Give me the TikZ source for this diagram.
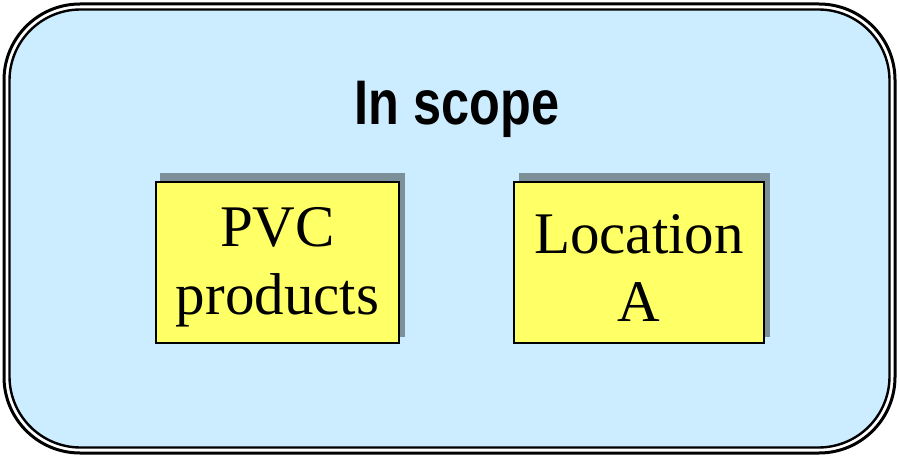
\documentclass[tikz,border=0pt]{standalone}
\usepackage{fontspec}
\setmainfont{Liberation Serif}
\newfontfamily\titlefont[FakeStretch=0.8]{Liberation Sans}
\definecolor{panelblue}{RGB}{204,236,255}
\definecolor{noteyellow}{RGB}{255,255,102}
\definecolor{shadowgray}{RGB}{125,143,153}
\begin{document}
\begin{tikzpicture}[x=1pt,y=-1pt,
  notebox/.style={draw=black,line width=1.6pt,fill=noteyellow,inner sep=0pt,
    minimum width=243pt,minimum height=161pt},
  notetext/.style={align=center,inner sep=0pt,
    font=\fontsize{59}{68}\selectfont},
  notebox shadow/.style={fill=shadowgray}
]
\useasboundingbox (0,0) rectangle (899,457);
% outer frame: two concentric rounded outlines
\draw[line width=3pt,rounded corners=76pt] (4,4) rectangle (895,453);
\draw[line width=2.4pt,fill=panelblue,rounded corners=71pt] (9.5,9.5) rectangle (889.5,447.5);
% title
\node[font=\titlefont\bfseries\fontsize{63}{70}\selectfont,anchor=base] (title) at (457,125) {In scope};
% shadows behind the two notes
\fill[notebox shadow] (160,173) rectangle (405,337);
\fill[notebox shadow] (519,173) rectangle (770,337);
% the notes
\node[notebox] (pvc) at (277.5,262.5) {};
\node[notebox,minimum width=250pt] (loc) at (639,262.5) {};
\node[notetext,yshift=-5pt] (pvctext) at (pvc.center) {PVC\\products};
\node[notetext,yshift=-5pt] (loctext) at (loc.center) {Location\\A};
\end{tikzpicture}
\end{document}
